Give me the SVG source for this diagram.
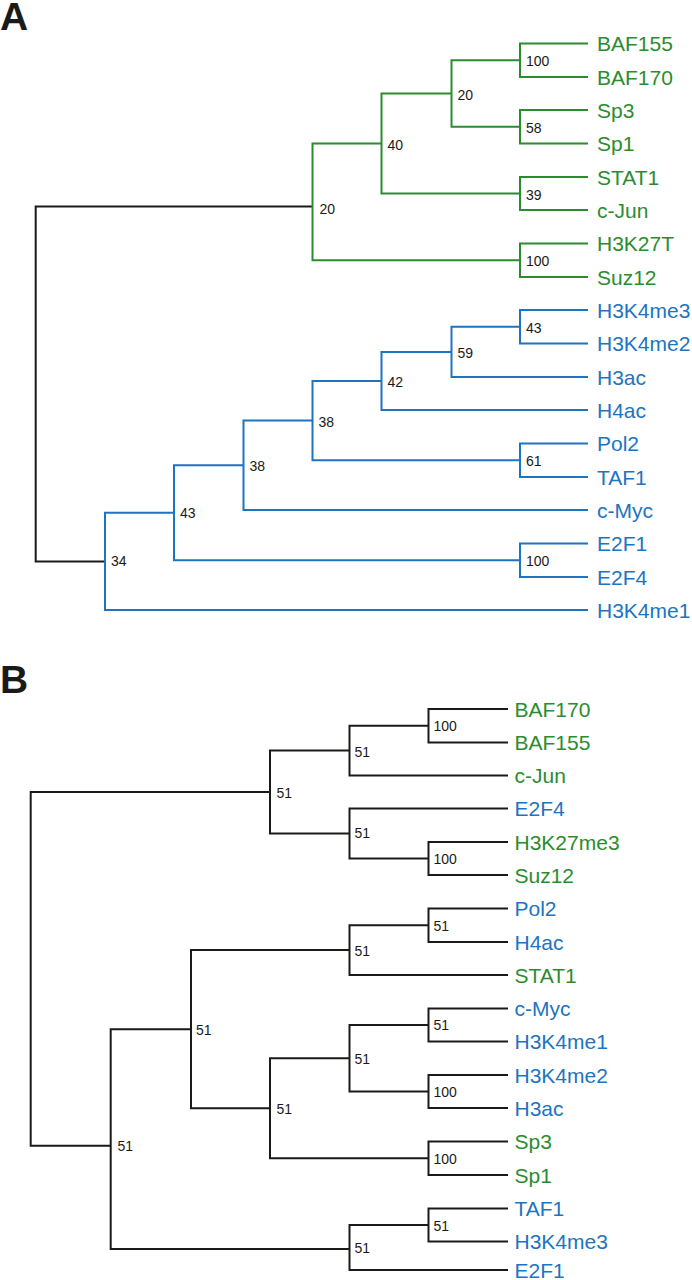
<svg xmlns="http://www.w3.org/2000/svg" width="692" height="1280" viewBox="0 0 692 1280">
<style>
.e{fill:none;stroke-width:2;stroke-linejoin:miter}
.k{stroke:#1c1a18}
.g{stroke:#2b8c2f}
.b{stroke:#1c74c2}
.lf{font-family:"Liberation Sans",Arial,sans-serif;font-size:21px}
.tg{fill:#2b8c2f}
.tb{fill:#1c74c2}
.nl{font-family:"Liberation Sans",Arial,sans-serif;font-size:14px;fill:#1c1a18}
.pl{font-family:"Liberation Sans",Arial,sans-serif;font-size:39px;font-weight:bold;fill:#1c1a18}
</style>
<rect width="692" height="1280" fill="#fff"/>
<text class="pl" x="0" y="30">A</text>
<text class="pl" x="0" y="693">B</text>

<g id="connectors">
<!-- Panel A -->
<path class="e k" d="M312.5 206.5H35.7V561.4H105"/>
<path class="e g" d="M381.5 143.5H312.5V260.25H520"/>
<path class="e g" d="M451.5 93.5H381.5V193.5H520"/>
<path class="e g" d="M520 60.25H451.5V126.75H520"/>
<path class="e g" d="M588 43.5H520V77H588"/>
<path class="e g" d="M588 110H520V143.5H588"/>
<path class="e g" d="M588 177H520V210H588"/>
<path class="e g" d="M588 243.5H520V277H588"/>
<path class="e b" d="M174 512.8H105V610H588"/>
<path class="e b" d="M243.5 465.3H174V560.25H520"/>
<path class="e b" d="M312.5 420.6H243.5V510H588"/>
<path class="e b" d="M381.5 381H312.5V460.25H520"/>
<path class="e b" d="M451.5 351.9H381.5V410H588"/>
<path class="e b" d="M520 326.75H451.5V377H588"/>
<path class="e b" d="M588 310H520V343.5H588"/>
<path class="e b" d="M588 443.5H520V477H588"/>
<path class="e b" d="M588 543.5H520V577H588"/>
<!-- Panel B -->
<path class="e k" d="M270 792H30.7V1145.7H110.7"/>
<path class="e k" d="M349.5 750.6H270V833.5H349.5"/>
<path class="e k" d="M428.5 725.75H349.5V775.5H508"/>
<path class="e k" d="M508 709H428.5V742.5H508"/>
<path class="e k" d="M508 808.5H349.5V858.5H428.5"/>
<path class="e k" d="M508 842H428.5V875H508"/>
<path class="e k" d="M191 1029.2H110.7V1249H349.5"/>
<path class="e k" d="M349.5 950.1H191V1108.25H270"/>
<path class="e k" d="M428.5 925.25H349.5V975H508"/>
<path class="e k" d="M508 908.5H428.5V942H508"/>
<path class="e k" d="M349.5 1058.25H270V1158.25H428.5"/>
<path class="e k" d="M428.5 1025H349.5V1091.5H428.5"/>
<path class="e k" d="M508 1008.5H428.5V1041.5H508"/>
<path class="e k" d="M508 1075H428.5V1108H508"/>
<path class="e k" d="M508 1141.5H428.5V1175H508"/>
<path class="e k" d="M428.5 1225H349.5V1270H508"/>
<path class="e k" d="M508 1208.5H428.5V1241.5H508"/>
</g>

<!-- Panel A leaves -->
<g id="a-BAF155"><text class="lf tg" x="597" y="51">BAF155</text></g>
<g id="a-BAF170"><text class="lf tg" x="597" y="84.5">BAF170</text></g>
<g id="a-Sp3"><text class="lf tg" x="597" y="117.5">Sp3</text></g>
<g id="a-Sp1"><text class="lf tg" x="597" y="151">Sp1</text></g>
<g id="a-STAT1"><text class="lf tg" x="597" y="184.5">STAT1</text></g>
<g id="a-cJun"><text class="lf tg" x="597" y="217.5">c-Jun</text></g>
<g id="a-H3K27T"><text class="lf tg" x="597" y="251">H3K27T</text></g>
<g id="a-Suz12"><text class="lf tg" x="597" y="284.5">Suz12</text></g>
<g id="a-H3K4me3"><text class="lf tb" x="597" y="317.5">H3K4me3</text></g>
<g id="a-H3K4me2"><text class="lf tb" x="597" y="351">H3K4me2</text></g>
<g id="a-H3ac"><text class="lf tb" x="597" y="384.5">H3ac</text></g>
<g id="a-H4ac"><text class="lf tb" x="597" y="417.5">H4ac</text></g>
<g id="a-Pol2"><text class="lf tb" x="597" y="451">Pol2</text></g>
<g id="a-TAF1"><text class="lf tb" x="597" y="484.5">TAF1</text></g>
<g id="a-cMyc"><text class="lf tb" x="597" y="517.5">c-Myc</text></g>
<g id="a-E2F1"><text class="lf tb" x="597" y="551">E2F1</text></g>
<g id="a-E2F4"><text class="lf tb" x="597" y="584.5">E2F4</text></g>
<g id="a-H3K4me1"><text class="lf tb" x="597" y="617.5">H3K4me1</text></g>

<!-- Panel A internal nodes -->
<g id="a-n1"><text class="nl" x="526" y="66">100</text></g>
<g id="a-n2"><text class="nl" x="526" y="133">58</text></g>
<g id="a-n3"><text class="nl" x="457.5" y="99.5">20</text></g>
<g id="a-n4"><text class="nl" x="526" y="199.5">39</text></g>
<g id="a-n5"><text class="nl" x="387.5" y="149.5">40</text></g>
<g id="a-n6"><text class="nl" x="526" y="266">100</text></g>
<g id="a-n7"><text class="nl" x="319.5" y="214">20</text></g>
<g id="a-m1"><text class="nl" x="526" y="332.5">43</text></g>
<g id="a-m2"><text class="nl" x="457.5" y="358">59</text></g>
<g id="a-m3"><text class="nl" x="387.5" y="387">42</text></g>
<g id="a-m4"><text class="nl" x="526" y="466">61</text></g>
<g id="a-m5"><text class="nl" x="318.5" y="426.5">38</text></g>
<g id="a-m6"><text class="nl" x="249.5" y="471">38</text></g>
<g id="a-m7"><text class="nl" x="526" y="566">100</text></g>
<g id="a-m8"><text class="nl" x="180" y="518">43</text></g>
<g id="a-m9"><text class="nl" x="111" y="566">34</text></g>

<!-- Panel B leaves -->
<g id="b-BAF170"><text class="lf tg" x="514.5" y="716.5">BAF170</text></g>
<g id="b-BAF155"><text class="lf tg" x="514.5" y="750">BAF155</text></g>
<g id="b-cJun"><text class="lf tg" x="514.5" y="783">c-Jun</text></g>
<g id="b-E2F4"><text class="lf tb" x="514.5" y="816">E2F4</text></g>
<g id="b-H3K27me3"><text class="lf tg" x="514.5" y="849.5">H3K27me3</text></g>
<g id="b-Suz12"><text class="lf tg" x="514.5" y="882.5">Suz12</text></g>
<g id="b-Pol2"><text class="lf tb" x="514.5" y="916">Pol2</text></g>
<g id="b-H4ac"><text class="lf tb" x="514.5" y="949.5">H4ac</text></g>
<g id="b-STAT1"><text class="lf tg" x="514.5" y="982.5">STAT1</text></g>
<g id="b-cMyc"><text class="lf tb" x="514.5" y="1016">c-Myc</text></g>
<g id="b-H3K4me1"><text class="lf tb" x="514.5" y="1049">H3K4me1</text></g>
<g id="b-H3K4me2"><text class="lf tb" x="514.5" y="1082.5">H3K4me2</text></g>
<g id="b-H3ac"><text class="lf tb" x="514.5" y="1115.5">H3ac</text></g>
<g id="b-Sp3"><text class="lf tg" x="514.5" y="1149">Sp3</text></g>
<g id="b-Sp1"><text class="lf tg" x="514.5" y="1182.5">Sp1</text></g>
<g id="b-TAF1"><text class="lf tb" x="514.5" y="1216">TAF1</text></g>
<g id="b-H3K4me3"><text class="lf tb" x="514.5" y="1249">H3K4me3</text></g>
<g id="b-E2F1"><text class="lf tb" x="514.5" y="1277.5">E2F1</text></g>

<!-- Panel B internal nodes -->
<g id="b-p1"><text class="nl" x="433.5" y="731">100</text></g>
<g id="b-p2"><text class="nl" x="354.5" y="756.5">51</text></g>
<g id="b-p3"><text class="nl" x="433.5" y="864">100</text></g>
<g id="b-p4"><text class="nl" x="354.5" y="838">51</text></g>
<g id="b-p5"><text class="nl" x="276.5" y="797.5">51</text></g>
<g id="b-p6"><text class="nl" x="433.5" y="930.5">51</text></g>
<g id="b-p7"><text class="nl" x="354.5" y="956">51</text></g>
<g id="b-p8"><text class="nl" x="433.5" y="1030">51</text></g>
<g id="b-p9"><text class="nl" x="433.5" y="1097">100</text></g>
<g id="b-p10"><text class="nl" x="354.5" y="1064">51</text></g>
<g id="b-p11"><text class="nl" x="433.5" y="1163.5">100</text></g>
<g id="b-p12"><text class="nl" x="276.5" y="1113.5">51</text></g>
<g id="b-p13"><text class="nl" x="196" y="1034.5">51</text></g>
<g id="b-p14"><text class="nl" x="433.5" y="1230.5">51</text></g>
<g id="b-p15"><text class="nl" x="354.5" y="1253">51</text></g>
<g id="b-p16"><text class="nl" x="117.5" y="1151">51</text></g>
</svg>
